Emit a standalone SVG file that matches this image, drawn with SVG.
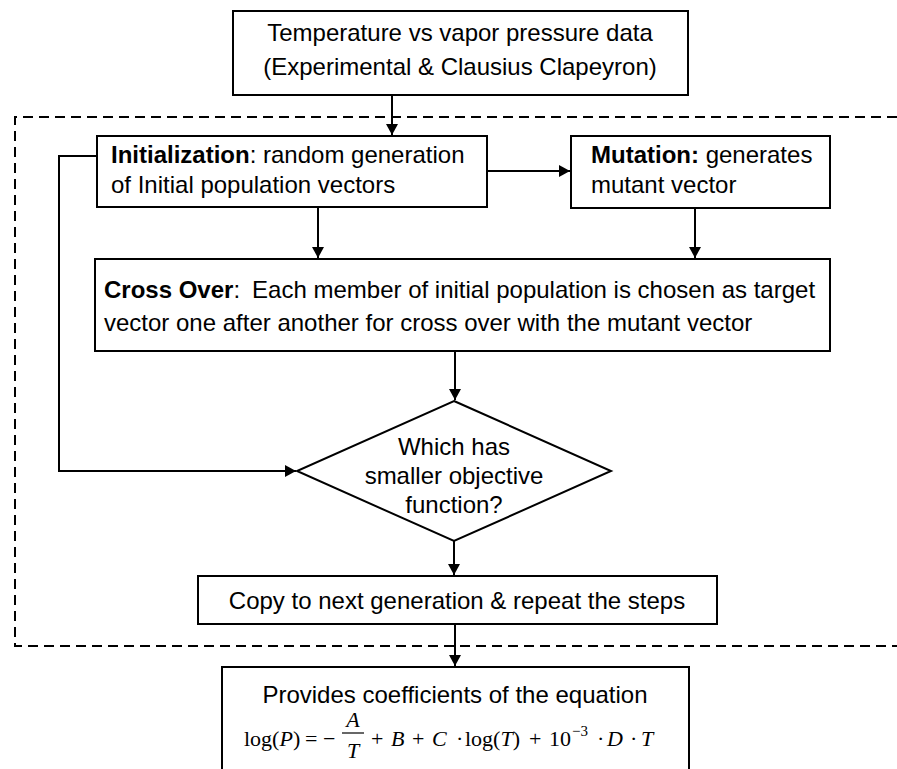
<svg xmlns="http://www.w3.org/2000/svg" width="897" height="769" viewBox="0 0 897 769">
<style>
  .box { fill: #fff; stroke: #000; stroke-width: 2; }
  .t { font-family: "Liberation Sans", Arial, sans-serif; font-size: 24px; fill: #000; }
  .b { font-weight: bold; }
  .c { text-anchor: middle; }
  .m { font-family: "Liberation Serif", "Times New Roman", serif; font-size: 22px; fill: #000; }
  .i { font-style: italic; }
  .conn { fill: none; stroke: #000; stroke-width: 2; }
  .dash { fill: none; stroke: #000; stroke-width: 2; stroke-dasharray: 10 6; }
</style>
<defs>
  <marker id="arr" markerUnits="userSpaceOnUse" markerWidth="12" markerHeight="12" refX="11" refY="6" orient="auto">
    <path d="M0,0 L11,6 L0,12 z" fill="#000"/>
  </marker>
</defs>
<rect width="897" height="769" fill="#fff"/>

<g id="loop-boundary">
  <path class="dash" d="M897,117 H15 V646 H897"/>
</g>

<g id="connectors">
  <path class="conn" d="M392,95 V135" marker-end="url(#arr)"/>
  <path class="conn" d="M487,171 H570" marker-end="url(#arr)"/>
  <path class="conn" d="M318,207 V258" marker-end="url(#arr)"/>
  <path class="conn" d="M695,208 V258" marker-end="url(#arr)"/>
  <path class="conn" d="M455,351 V400" marker-end="url(#arr)"/>
  <path class="conn" d="M97,156 H59 V471 H296" marker-end="url(#arr)"/>
  <path class="conn" d="M454,541 V575" marker-end="url(#arr)"/>
  <path class="conn" d="M455,624 V666" marker-end="url(#arr)"/>
</g>

<g id="data">
  <rect class="box" x="233" y="11" width="455" height="84"/>
  <text class="t c" x="460" y="41">Temperature vs vapor pressure data</text>
  <text class="t c" x="460" y="75">(Experimental &amp; Clausius Clapeyron)</text>
</g>

<g id="initialization">
  <rect class="box" x="97" y="136" width="390" height="71"/>
  <text class="t" x="111" y="163"><tspan class="b">Initialization</tspan>: random generation</text>
  <text class="t" x="111" y="193">of Initial population vectors</text>
</g>

<g id="mutation">
  <rect class="box" x="571" y="136" width="259" height="72"/>
  <text class="t" x="591" y="163"><tspan class="b">Mutation:</tspan> generates</text>
  <text class="t" x="591" y="193">mutant vector</text>
</g>

<g id="crossover">
  <rect class="box" x="95" y="259" width="735" height="92"/>
  <text class="t" x="104" y="298"><tspan class="b">Cross Over</tspan>:<tspan dx="12">Each member of initial population is chosen as target</tspan></text>
  <text class="t" x="104" y="331">vector one after another for cross over with the mutant vector</text>
</g>

<g id="decision">
  <polygon class="box" points="454,401 611,471 454,541 297,471"/>
  <text class="t c" x="454" y="455">Which has</text>
  <text class="t c" x="454" y="484">smaller objective</text>
  <text class="t c" x="454" y="513">function?</text>
</g>

<g id="copy">
  <rect class="box" x="198" y="576" width="519" height="48"/>
  <text class="t c" x="457" y="609">Copy to next generation &amp; repeat the steps</text>
</g>

<g id="result">
  <rect class="box" x="222" y="667" width="467" height="110"/>
  <text class="t c" x="455" y="703">Provides coefficients of the equation</text>
  <text class="m" x="244" y="746">log(<tspan class="i">P</tspan>)</text>
  <text class="m" x="305" y="746">=</text>
  <text class="m" x="323" y="746">−</text>
  <text class="m i c" x="353" y="727">A</text>
  <line x1="342" y1="733" x2="364" y2="733" stroke="#000" stroke-width="1.2"/>
  <text class="m i c" x="353" y="758">T</text>
  <text class="m" x="371" y="746">+</text>
  <text class="m i" x="391" y="746">B</text>
  <text class="m" x="412" y="746">+</text>
  <text class="m i" x="432" y="746">C</text>
  <text class="m" x="456" y="746">·</text>
  <text class="m" x="465" y="746">log(<tspan class="i">T</tspan>)</text>
  <text class="m" x="529" y="746">+</text>
  <text class="m" x="549" y="746">10</text>
  <text class="m" x="572" y="736" style="font-size:15px">−3</text>
  <text class="m" x="597" y="746">·</text>
  <text class="m i" x="607" y="746">D</text>
  <text class="m" x="630" y="746">·</text>
  <text class="m i" x="641" y="746">T</text>
</g>
</svg>
